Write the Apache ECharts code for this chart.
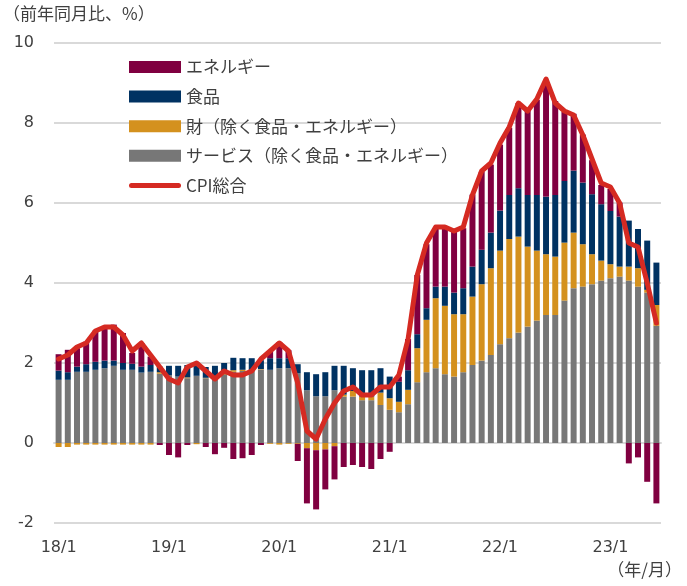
<!DOCTYPE html>
<html><head><meta charset="utf-8">
<script src="https://cdn.jsdelivr.net/npm/echarts@6/dist/echarts.min.js"></script>
<style>html,body{margin:0;padding:0;background:#fff}#c{width:687px;height:586px}</style>
</head><body><div id="c"></div>
<script>
const categories = [
 '18/1','18/2','18/3','18/4','18/5','18/6','18/7','18/8','18/9','18/10','18/11','18/12',
 '19/1','19/2','19/3','19/4','19/5','19/6','19/7','19/8','19/9','19/10','19/11','19/12',
 '20/1','20/2','20/3','20/4','20/5','20/6','20/7','20/8','20/9','20/10','20/11','20/12',
 '21/1','21/2','21/3','21/4','21/5','21/6','21/7','21/8','21/9','21/10','21/11','21/12',
 '22/1','22/2','22/3','22/4','22/5','22/6','22/7','22/8','22/9','22/10','22/11','22/12',
 '23/1','23/2','23/3','23/4','23/5','23/6'];
const services = [
 1.58,1.58,1.78,1.78,1.83,1.87,1.93,1.83,1.83,1.76,1.78,1.73,
 1.70,1.66,1.62,1.68,1.62,1.65,1.70,1.78,1.80,1.80,1.84,1.83,
 1.87,1.87,1.74,1.32,1.17,1.17,1.32,1.16,1.16,1.07,1.07,0.95,
 0.83,0.77,0.97,1.52,1.77,1.87,1.72,1.66,1.77,1.95,2.06,2.20,
 2.47,2.62,2.76,2.91,3.06,3.20,3.20,3.56,3.87,3.91,3.97,4.06,
 4.12,4.16,4.06,3.91,3.76,2.93];
const goods = [
 -0.10,-0.10,-0.04,-0.04,-0.04,-0.04,-0.04,-0.04,-0.04,-0.04,-0.04,0.04,
 0.00,0.00,0.02,-0.03,0.01,0.00,0.02,0.04,0.03,0.02,0.01,-0.02,
 -0.04,-0.02,-0.02,-0.13,-0.18,-0.16,-0.08,0.05,0.14,0.09,0.09,0.31,
 0.29,0.26,0.36,0.85,1.31,1.75,1.71,1.56,1.45,1.71,1.91,2.17,
 2.34,2.48,2.40,2.00,1.75,1.52,1.46,1.45,1.39,1.06,0.75,0.50,
 0.35,0.25,0.35,0.46,0.07,0.52];
const food = [
 0.23,0.19,0.13,0.19,0.20,0.19,0.13,0.17,0.15,0.15,0.17,0.14,
 0.23,0.27,0.31,0.25,0.27,0.28,0.28,0.31,0.29,0.30,0.22,0.29,
 0.25,0.25,0.23,0.45,0.55,0.60,0.61,0.72,0.57,0.66,0.66,0.61,
 0.54,0.50,0.49,0.35,0.29,0.29,0.48,0.54,0.65,0.75,0.86,0.89,
 1.00,1.10,1.21,1.29,1.39,1.44,1.54,1.54,1.55,1.54,1.50,1.41,
 1.33,1.25,1.15,0.98,1.23,1.06];
const energy = [
 0.41,0.56,0.46,0.56,0.78,0.85,0.90,0.75,0.27,0.59,0.21,-0.05,
 -0.30,-0.36,-0.05,0.08,-0.10,-0.28,-0.12,-0.40,-0.38,-0.30,-0.05,0.18,
 0.40,0.20,-0.43,-1.38,-1.48,-1.00,-0.83,-0.60,-0.55,-0.60,-0.65,-0.40,
 -0.22,0.13,0.78,1.48,1.60,1.45,1.45,1.52,1.50,1.80,1.95,1.70,
 1.65,1.68,2.13,2.10,2.38,2.90,2.35,1.73,1.42,1.20,0.85,0.48,
 0.55,0.35,-0.51,-0.36,-0.97,-1.51];
const cpi = [
 2.1,2.2,2.4,2.5,2.8,2.9,2.9,2.7,2.3,2.5,2.2,1.9,
 1.6,1.5,1.9,2.0,1.8,1.6,1.8,1.7,1.7,1.8,2.1,2.3,
 2.5,2.3,1.5,0.3,0.1,0.6,1.0,1.3,1.4,1.2,1.2,1.4,
 1.4,1.7,2.6,4.2,5.0,5.4,5.4,5.3,5.4,6.2,6.8,7.0,
 7.5,7.9,8.5,8.3,8.6,9.1,8.5,8.3,8.2,7.7,7.1,6.5,
 6.4,6.0,5.0,4.9,4.0,3.0];
const names = {
 energy:'エネルギー', food:'食品', goods:'財（除く食品・エネルギー）',
 services:'サービス（除く食品・エネルギー）', cpi:'CPI総合'};
const yTitle = '（前年同月比、%）';
const xTitle = '（年/月）';

const NUMF = '"DejaVu Sans","Noto Sans CJK JP",sans-serif';
const JF = '"Noto Sans CJK JP",sans-serif';
const TXT = '#404040';
const GRID = '#d9d9d9';
const RED = '#D52A22';
const chart = echarts.init(document.getElementById('c'), null, {renderer:'canvas'});
const yearTick = (i) => i % 12 === 0;
const bar = (name, data, color) => ({
  name, type:'bar', stack:'total', data, xAxisIndex:0,
  barCategoryGap:'35%', itemStyle:{color}
});
const lineIcon = 'path://M2.5,0 L49.5,0 A2.5,2.5 0 0 1 49.5,5 L2.5,5 A2.5,2.5 0 0 1 2.5,0 Z';
chart.setOption({
  animation:false,
  grid:{left:54, right:26, top:43, bottom:63},
  graphic:[
    {type:'text', left:3, top:5, style:{text:yTitle, fill:TXT, font:'17px '+JF}},
    {type:'text', right:5, top:561, style:{text:xTitle, fill:TXT, font:'17px '+JF}}
  ],
  legend:{
    orient:'vertical', left:129, top:58, padding:0,
    itemWidth:52, itemHeight:12, itemGap:11.6, symbolKeepAspect:true,
    textStyle:{fontSize:17, color:TXT, fontFamily:JF, lineHeight:18},
    data:[
      {name:names.energy, icon:'rect'},
      {name:names.food, icon:'rect'},
      {name:names.goods, icon:'rect'},
      {name:names.services, icon:'rect'},
      {name:names.cpi, icon:lineIcon, itemStyle:{color:RED}}
    ]
  },
  xAxis:[
    {type:'category', data:categories, position:'bottom',
     axisLine:{show:false, onZero:false}, axisTick:{show:false},
     axisLabel:{interval:yearTick, fontSize:16, color:TXT, margin:17, fontFamily:NUMF}},
    {type:'category', data:categories, position:'bottom',
     axisLine:{onZero:true, lineStyle:{color:GRID, width:2}},
     axisTick:{interval:yearTick, length:7, lineStyle:{color:GRID, width:2}},
     axisLabel:{show:false}}
  ],
  yAxis:{type:'value', min:-2, max:10, interval:2,
    axisLine:{show:false}, axisTick:{show:false},
    splitLine:{lineStyle:{color:GRID, width:2}},
    axisLabel:{fontSize:16, color:TXT, margin:20, fontFamily:NUMF}},
  series:[
    bar(names.services, services, '#777777'),
    bar(names.goods, goods, '#D4911E'),
    bar(names.food, food, '#003262'),
    bar(names.energy, energy, '#800040'),
    {name:names.cpi, type:'line', data:cpi, symbol:'none', xAxisIndex:0, z:10,
     itemStyle:{color:RED},
     lineStyle:{color:RED, width:5, cap:'round', join:'round'}}
  ]
});
</script></body></html>
